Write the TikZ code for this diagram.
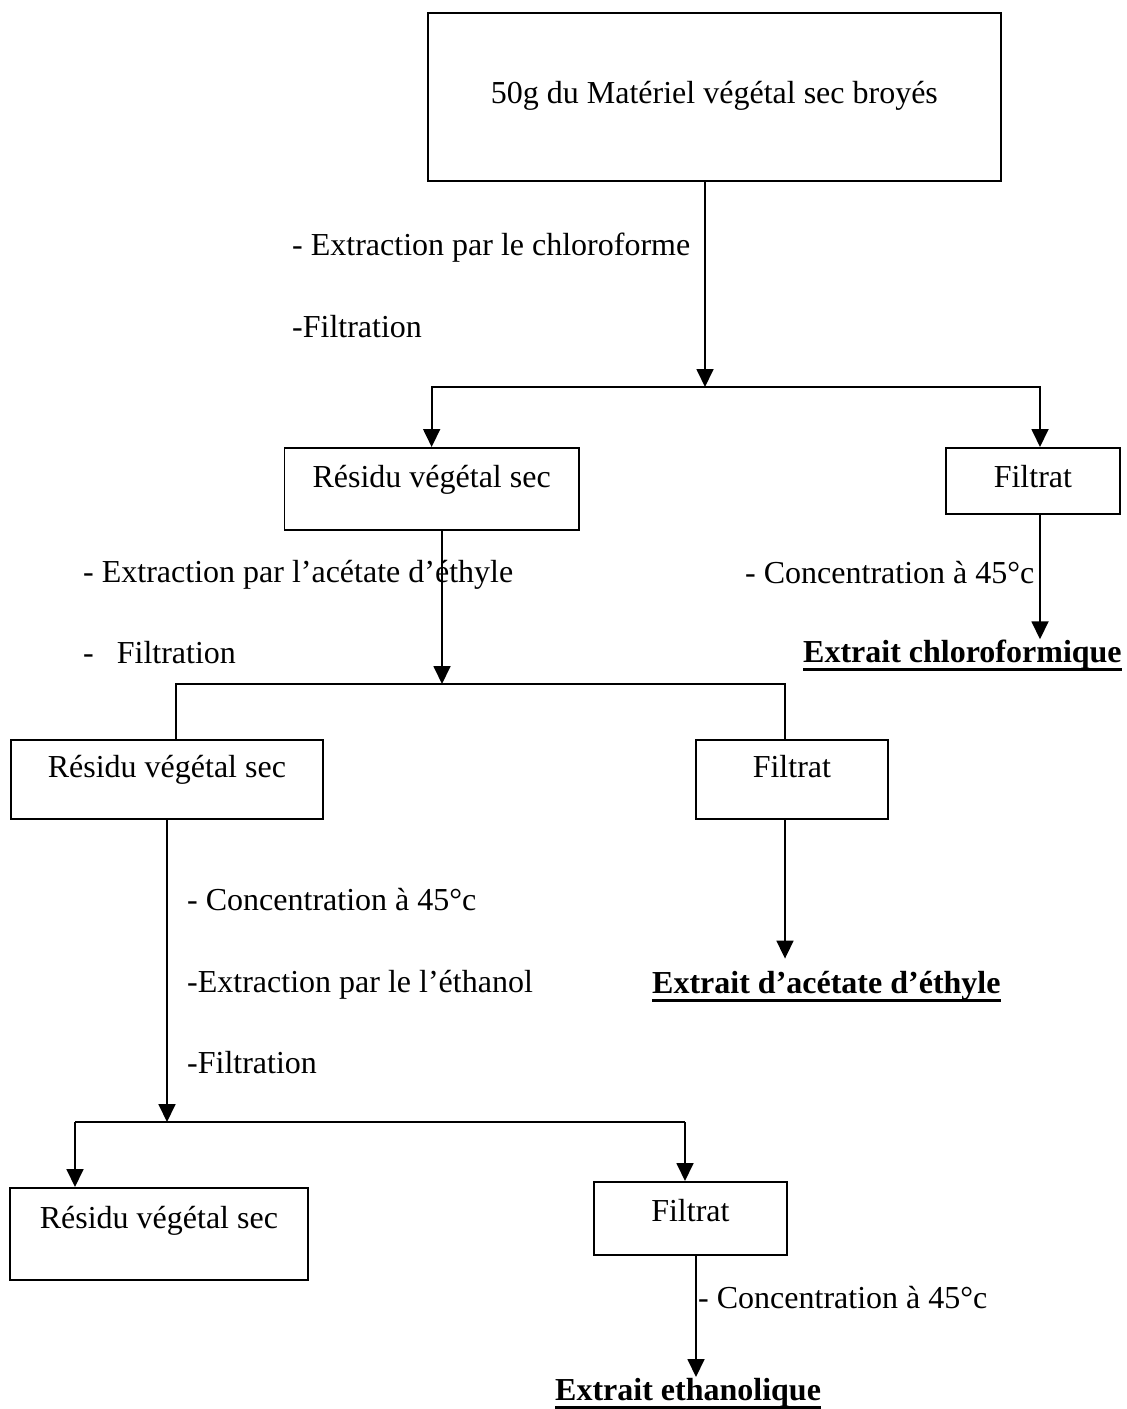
\documentclass[tikz,border=0pt]{standalone}
\usepackage{fontspec}
\setmainfont{Liberation Serif}
\usetikzlibrary{arrows.meta}

% underline at a fixed depth
\newcommand{\xunder}[1]{\setbox0\hbox{#1}\rlap{\rule[-9pt]{\wd0}{3pt}}\box0}

\tikzset{
  box/.style={draw, line width=1.8pt, anchor=north west, inner sep=0pt, text height=22pt},
  lbl/.style={anchor=base west, inner sep=0pt},
  ext/.style={anchor=base west, inner sep=0pt, font=\fontsize{32}{38}\selectfont\bfseries},
  line/.style={line width=1.8pt},
  arr/.style={line width=1.8pt, -{Triangle[length=18pt,width=17pt]}}
}

\begin{document}
\begin{tikzpicture}[x=1pt, y=-1pt, font=\fontsize{32}{38}\selectfont]
  \useasboundingbox (0,0) rectangle (1127,1409);

  % Boxes
  \node[box, minimum width=573pt, minimum height=168pt, text depth=8pt] (mat) at (427,12) {50g du Matériel végétal sec broyés};
  \node[box, minimum width=294.5pt, minimum height=82pt, text depth=24pt] (res1) at (283.5,447) {Résidu végétal sec};
  \node[box, minimum width=174pt, minimum height=66pt, text depth=8pt] (fil1) at (945,447) {Filtrat};
  \node[box, minimum width=312pt, minimum height=79pt, text depth=25pt] (res2) at (10,739) {Résidu végétal sec};
  \node[box, minimum width=192pt, minimum height=79pt, text depth=25pt] (fil2) at (695,739) {Filtrat};
  \node[box, minimum width=298pt, minimum height=92pt, text depth=32pt] (res3) at (9,1187) {Résidu végétal sec};
  \node[box, minimum width=193pt, minimum height=73pt, text depth=16pt] (fil3) at (593,1181) {Filtrat};

  % Step texts
  \node[lbl] (chl) at (292,255) {- Extraction par le chloroforme};
  \node[lbl] (filt1) at (292,337) {-Filtration};
  \node[lbl] (acet) at (83,582) {- Extraction par l’acétate d’éthyle};
  \node[lbl] (filt2) at (83,663) {-\hspace{23pt}Filtration};
  \node[lbl] (conc1) at (745,583) {- Concentration à 45°c};
  \node[lbl] (conc2) at (187,910) {- Concentration à 45°c};
  \node[lbl] (etha) at (187,992) {-Extraction par le l’éthanol};
  \node[lbl] (filt3) at (187,1073) {-Filtration};
  \node[lbl] (conc3) at (698,1308) {- Concentration à 45°c};

  % Extracts
  \node[ext] (ext1) at (803,662) {\xunder{Extrait chloroformique}};
  \node[ext] (ext2) at (652,993) {\xunder{Extrait d’acétate d’éthyle}};
  \node[ext] (ext3) at (555,1400) {\xunder{Extrait ethanolique}};

  % Junction points
  \coordinate (j1) at (705,387);
  \coordinate (b1r) at (1040,387);
  \coordinate (j2) at (442,684);
  \coordinate (b2l) at (176,684);
  \coordinate (b2r) at (785,684);
  \coordinate (j3) at (167,1122);
  \coordinate (b3l) at (75,1122);
  \coordinate (b3r) at (685,1122);
  \coordinate (t3) at (696,1377);

  % First extraction
  \draw[arr] (j1 |- mat.south) -- (j1);
  \draw[arr] (j1) -| (res1.north);
  \draw[arr] (j1) -| (b1r |- fil1.north);
  \draw[arr] (b1r |- fil1.south) -- (b1r |- ext1.north);

  % Second extraction
  \draw[arr] (j2 |- res1.south) -- (j2);
  \draw[line] (b2l |- res2.north) -- (b2l) -- (b2r) -- (b2r |- fil2.north);
  \draw[arr, shorten >=12pt] (b2r |- fil2.south) -- (b2r |- ext2.north);

  % Third extraction
  \draw[arr] (j3 |- res2.south) -- (j3);
  \draw[line] (b3l) -- (b3r);
  \draw[arr] (b3l) -- (b3l |- res3.north);
  \draw[arr] (b3r) -- (b3r |- fil3.north);
  \draw[arr] (t3 |- fil3.south) -- (t3);
\end{tikzpicture}
\end{document}
